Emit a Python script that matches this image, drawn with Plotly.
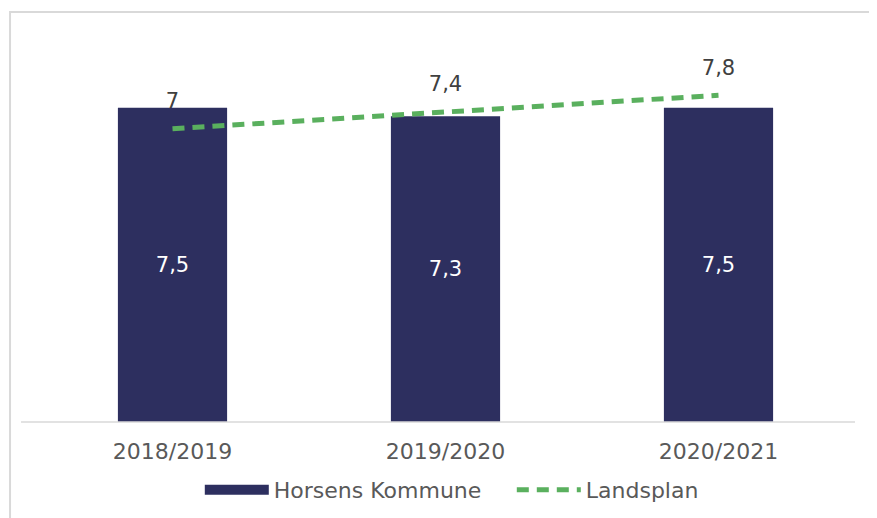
import plotly.graph_objects as go

categories = ["2018/2019", "2019/2020", "2020/2021"]
horsens = [7.5, 7.3, 7.5]
landsplan = [7.0, 7.4, 7.8]

def fmt(v):
    s = ("%g" % v)
    return s.replace(".", ",")

NAVY = "#2d2f5f"
GREEN = "#5ab05e"
FONT = "DejaVu Sans"

fig = go.Figure()
fig.add_trace(go.Bar(
    x=categories, y=horsens, name="Horsens Kommune",
    marker=dict(color=NAVY, line=dict(width=0)),
    width=0.40,
    text=[fmt(v) for v in horsens],
    textposition="inside", insidetextanchor="middle",
    textfont=dict(color="white", size=21, family=FONT),
    showlegend=False,
))
fig.add_trace(go.Scatter(
    x=categories, y=landsplan, name="Landsplan",
    mode="lines+markers+text",
    line=dict(color=GREEN, width=5, dash="12px,8px"),
    marker=dict(size=23, opacity=0, color=GREEN),
    text=[fmt(v) for v in landsplan],
    textposition="top center",
    textfont=dict(color="#404040", size=21, family=FONT),
    showlegend=False,
))
# legend entries
fig.add_trace(go.Scatter(
    x=[None], y=[None], mode="lines", name="Horsens Kommune",
    line=dict(color=NAVY, width=14),
))
fig.add_trace(go.Scatter(
    x=[None], y=[None], mode="lines", name="Landsplan",
    line=dict(color=GREEN, width=5, dash="12px,8px"),
))

fig.update_layout(
    width=877, height=518,
    margin=dict(l=28, r=30, t=37, b=104),
    paper_bgcolor="white", plot_bgcolor="white",
    font=dict(family=FONT, size=21, color="#595959"),
    legend=dict(orientation="h", x=0.2, xanchor="left", y=-0.18, yanchor="middle",
                font=dict(size=22, color="#595959", family=FONT),
                itemwidth=64, entrywidth=233, entrywidthmode="pixels",
                traceorder="normal"),
    xaxis=dict(showline=False, showgrid=False, ticks="", ticklabelstandoff=14,
               tickfont=dict(size=22, color="#595959", family=FONT)),
    yaxis=dict(range=[0, 9.0], visible=False, showgrid=False),
    shapes=[
        dict(type="line", xref="paper", yref="paper", x0=-0.0183, x1=1.0, y0=0, y1=0,
             line=dict(color="#d9d9d9", width=1.5)),
        dict(type="rect", xref="paper", yref="paper", x0=-0.0317, x1=1.2, y0=-0.4, y1=1.0875,
             line=dict(color="#d9d9d9", width=2), layer="below"),
    ],
)

fig.write_html("out.html")
